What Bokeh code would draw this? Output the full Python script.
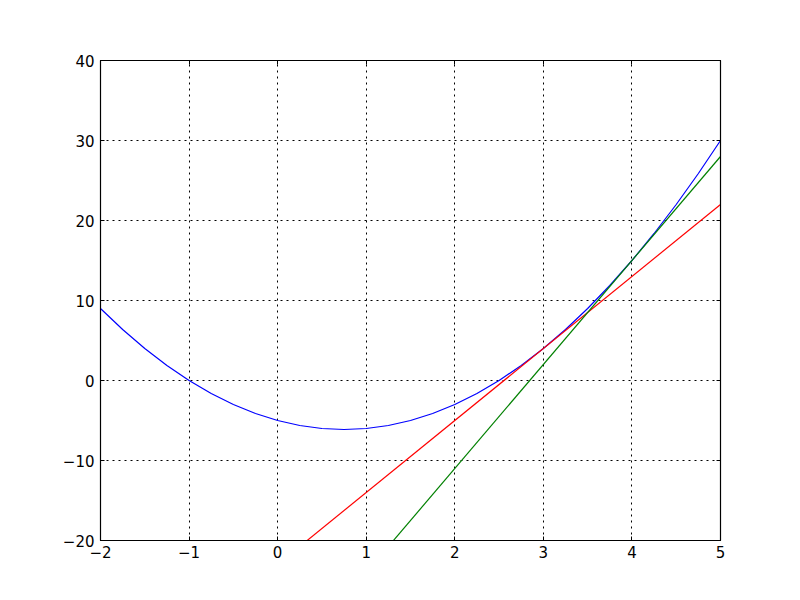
from bokeh.plotting import figure
from bokeh.models import Range1d, FixedTicker, LinearAxis
from bokeh.embed import file_html
from bokeh.resources import INLINE

# curve values
curve_x = [-2, -1.75, -1.5, -1.25, -1, -0.75, -0.5, -0.25, 0, 0.25, 0.5, 0.75, 1,
           1.25, 1.5, 1.75, 2, 2.25, 2.5, 2.75, 3, 3.25, 3.5, 3.75, 4, 4.25, 4.5, 4.75, 5]
curve_y = [9, 6.375, 4, 1.875, 0, -1.625, -3, -4.125, -5, -5.625, -6, -6.125, -6,
           -5.625, -5, -4.125, -3, -1.625, 0, 1.875, 4, 6.375, 9, 11.875, 15, 18.375, 22, 25.875, 30]
red_x = [-2, 5]
red_y = [-41, 22]
green_x = [-2, 5]
green_y = [-63, 28]

x_ticks = [-2, -1, 0, 1, 2, 3, 4, 5]
y_ticks = [-20, -10, 0, 10, 20, 30, 40]

def lab(v):
    return ("\u2212" + str(-v)) if v < 0 else str(v)

W, H = 784, 584
p = figure(width=W, height=H, output_backend="svg", toolbar_location=None,
           x_range=Range1d(-2, 5), y_range=Range1d(-20, 40),
           min_border_left=100, min_border_right=64, min_border_top=60, min_border_bottom=44)
p.background_fill_color = "white"
p.border_fill_color = "white"
p.outline_line_color = "black"
p.outline_line_width = 1.2

p.line(curve_x, curve_y, line_color="#0000ff", line_width=1.2)
p.line(red_x, red_y, line_color="#ff0000", line_width=1.2)
p.line(green_x, green_y, line_color="#008000", line_width=1.2)

font = "DejaVu Sans"
fs = "15px"

for ax, ticks in ((p.xaxis[0], x_ticks), (p.yaxis[0], y_ticks)):
    ax.ticker = FixedTicker(ticks=ticks)
    ax.major_label_overrides = {t: lab(t) for t in ticks}
    ax.major_label_text_font = font
    ax.major_label_text_font_size = fs
    ax.major_label_text_color = "black"
    ax.major_tick_in = 4
    ax.major_tick_out = 0
    ax.minor_tick_line_color = None
    ax.axis_line_color = "black"
    ax.major_tick_line_color = "black"
p.xaxis[0].major_label_standoff = 5
p.yaxis[0].major_label_standoff = 6

for side, ticks in (("above", x_ticks), ("right", y_ticks)):
    a = LinearAxis(ticker=FixedTicker(ticks=ticks))
    a.major_label_text_font_size = "0px"
    a.major_label_text_color = None
    a.major_tick_in = 4
    a.major_tick_out = 0
    a.minor_tick_line_color = None
    a.axis_line_color = "black"
    a.major_tick_line_color = "black"
    p.add_layout(a, side)

for g, ticks in ((p.xgrid[0], x_ticks), (p.ygrid[0], y_ticks)):
    g.ticker = FixedTicker(ticks=ticks)
    g.grid_line_color = "black"
    g.grid_line_dash = "2 4"
    g.grid_line_width = 1

open("out.html", "w").write(file_html(p, INLINE))
